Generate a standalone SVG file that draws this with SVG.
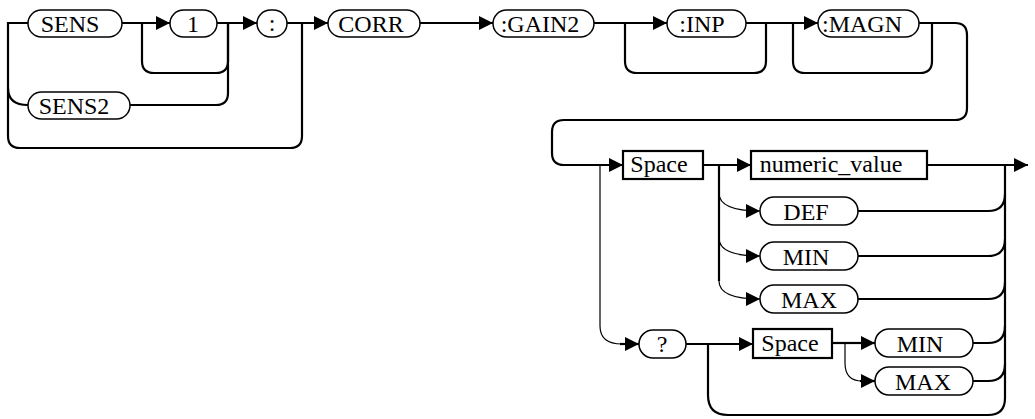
<svg xmlns="http://www.w3.org/2000/svg" width="1035" height="419" viewBox="0 0 1035 419">
<defs>
<marker id="ah" markerWidth="14" markerHeight="14" refX="14" refY="7" orient="auto" markerUnits="userSpaceOnUse">
<path d="M0,0 L14,7 L0,14 Z" fill="#000"/>
</marker>
<style>
.pill{fill:#fff;stroke:#000;stroke-width:1.5}
.box{fill:#fff;stroke:#000;stroke-width:2.2}
text{font-family:'Liberation Serif','Times New Roman',Tinos,serif;font-size:24px;fill:#000;text-anchor:middle}
.ln{fill:none;stroke:#000;stroke-width:2.2}
.thin{fill:none;stroke:#000;stroke-width:1.2}
.ar{marker-end:url(#ah)}
</style>
</defs>
<rect width="1035" height="419" fill="#fff"/>
<g id="connectors">
<path class="ln" d="M28,23 H8 V136 Q8,148 20,148 H290 Q302,148 302,136 V23"/>
<path class="ln" d="M8,88 Q8,105 28,105"/>
<path class="ln ar" d="M122,23 H170"/>
<path class="ln" d="M142,23 V61 Q142,73 154,73 H216 Q228,73 228,61 V23"/>
<path class="ln" d="M130,105 H216 Q228,105 228,93 V23"/>
<path class="ln ar" d="M217,23 H257"/>
<path class="ln ar" d="M287,23 H328"/>
<path class="ln ar" d="M420,23 H493"/>
<path class="ln ar" d="M594,23 H667"/>
<path class="ln" d="M625,23 V61 Q625,73 637,73 H754 Q766,73 766,61 V23"/>
<path class="ln ar" d="M746,23 H818"/>
<path class="ln" d="M793,23 V61 Q793,73 805,73 H920 Q932,73 932,61 V23"/>
<path class="ln ar" d="M919,23 H955 Q967,23 967,35 V108 Q967,120 955,120 H564 Q552,120 552,132 V153 Q552,165 564,165 H623"/>
<path class="ln ar" d="M703,165 H751"/>
<path class="ln ar" d="M927,165 H1028"/>
<path class="thin" d="M600,165 V326 Q600,344 622,344"/>
<path class="ln ar" d="M620,344 H639"/>
<path class="ln" d="M719,165 V281"/>
<path class="thin ar" d="M719,193 Q719,211 760,211"/>
<path class="thin ar" d="M719,238 Q719,256 760,256"/>
<path class="thin ar" d="M719,281 Q719,299 760,299"/>
<path class="ln" d="M858,211 H988 Q1005,211 1005,194"/>
<path class="ln" d="M858,256 H988 Q1005,256 1005,239"/>
<path class="ln" d="M858,299 H988 Q1005,299 1005,282"/>
<path class="ln" d="M1005,165 V398 Q1005,415 988,415 H728 Q708,415 708,395 V344"/>
<path class="ln ar" d="M686,344 H753"/>
<path class="ln" d="M832,343 H845"/>
<path class="ln ar" d="M845,343 H875"/>
<path class="thin" d="M845,343 V363 Q845,381 862,381"/>
<path class="ln ar" d="M860,381 H875"/>
<path class="ln" d="M973,343 H988 Q1005,343 1005,326"/>
<path class="ln" d="M973,381 H988 Q1005,381 1005,364"/>
</g>
<g id="n-sens"><rect class="pill" x="28" y="10" width="94" height="27" rx="13.5"/><text x="70" y="32">SENS</text></g>
<g id="n-sens2"><rect class="pill" x="28" y="92" width="102" height="27" rx="13.5"/><text x="74" y="114">SENS2</text></g>
<g id="n-1"><rect class="pill" x="170" y="10" width="47" height="27" rx="13.5"/><text x="193" y="32">1</text></g>
<g id="n-colon"><rect class="pill" x="257" y="10" width="30" height="27" rx="13.5"/><text x="272" y="31">:</text></g>
<g id="n-corr"><rect class="pill" x="328" y="10" width="92" height="27" rx="13.5"/><text x="371" y="32">CORR</text></g>
<g id="n-gain2"><rect class="pill" x="493" y="10" width="101" height="27" rx="13.5"/><text x="540" y="32">:GAIN2</text></g>
<g id="n-inp"><rect class="pill" x="667" y="10" width="79" height="27" rx="13.5"/><text x="702" y="32">:INP</text></g>
<g id="n-magn"><rect class="pill" x="818" y="10" width="101" height="27" rx="13.5"/><text x="862" y="32">:MAGN</text></g>
<g id="n-space1"><rect class="box" x="623" y="151" width="80" height="28"/><text x="659" y="172">Space</text></g>
<g id="n-numeric"><rect class="box" x="751" y="151" width="176" height="28"/><text x="831" y="172">numeric_value</text></g>
<g id="n-def"><rect class="pill" x="760" y="197" width="98" height="28" rx="14"/><text x="806" y="220">DEF</text></g>
<g id="n-min1"><rect class="pill" x="760" y="242" width="98" height="28" rx="14"/><text x="806" y="265">MIN</text></g>
<g id="n-max1"><rect class="pill" x="760" y="285" width="98" height="28" rx="14"/><text x="809" y="308">MAX</text></g>
<g id="n-query"><rect class="pill" x="639" y="330" width="47" height="28" rx="14"/><text x="662" y="352">?</text></g>
<g id="n-space2"><rect class="box" x="753" y="329" width="79" height="29"/><text x="790" y="351">Space</text></g>
<g id="n-min2"><rect class="pill" x="875" y="329" width="98" height="28" rx="14"/><text x="920" y="352">MIN</text></g>
<g id="n-max2"><rect class="pill" x="875" y="367" width="98" height="28" rx="14"/><text x="923" y="390">MAX</text></g>
</svg>
